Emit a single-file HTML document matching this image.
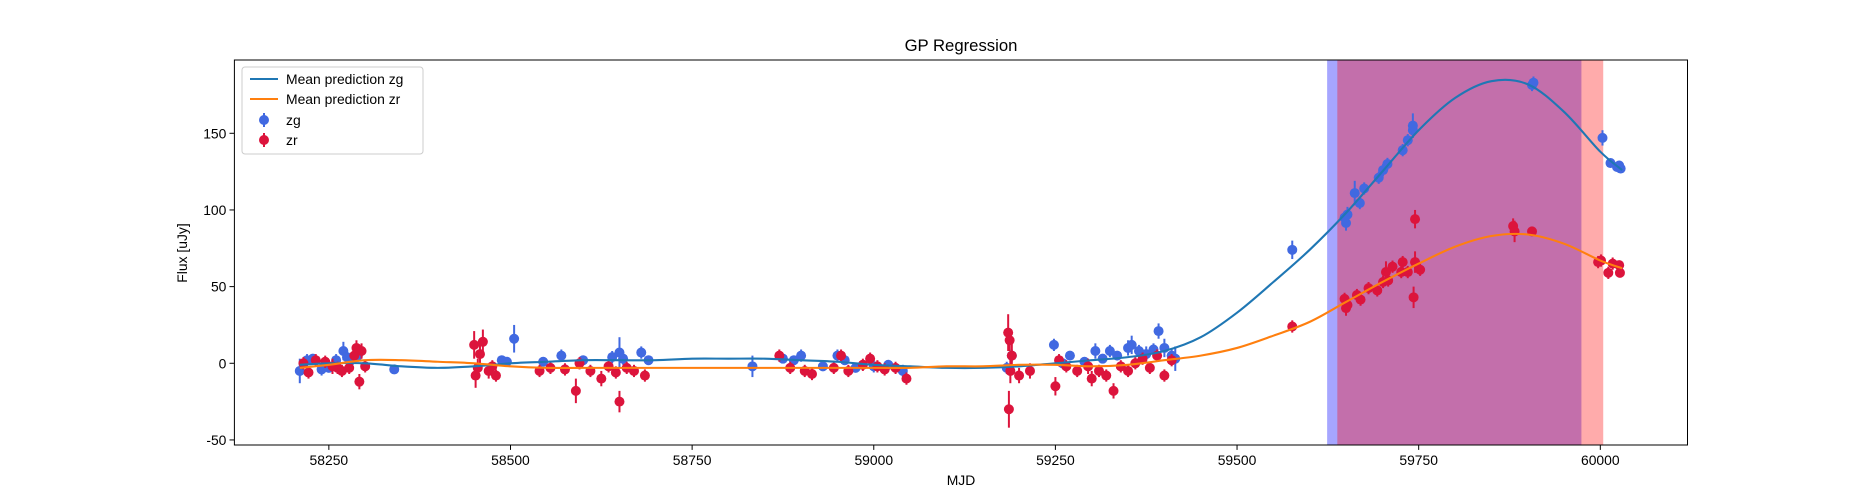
<!DOCTYPE html>
<html><head><meta charset="utf-8"><style>
body{margin:0;background:#fff}
svg{display:block;font-family:"Liberation Sans","DejaVu Sans",sans-serif}
</style></head><body>
<svg id="chart" width="1875" height="500" xmlns="http://www.w3.org/2000/svg"></svg>
<script>
const xTicks=[58250,58500,58750,59000,59250,59500,59750,60000];
const yTicks=[-50,0,50,100,150];
const spanZg=[59624,59974];
const spanZr=[59638,60004];
const zgX=[58210,58220,58228,58240,58250,58260,58270,58275,58283,58290,58340,58488,58495,58505,58545,58570,58600,58640,58650,58655,58680,58690,58833,58875,58890,58900,58930,58950,58960,58975,59000,59020,59040,59183,59190,59248,59260,59270,59290,59305,59315,59325,59335,59350,59355,59365,59375,59385,59392,59400,59410,59415,59576,59648,59650,59652,59662,59669,59675,59695,59701,59707,59728,59735,59742,59742,59906,59908,60003,60014,60023,60028,60026];
const zgY=[-5,2,3,-4,-3,2,8,4,3,5,-4,2,1,16,1,5,2,4,7,3,7,2,-2,3,2,5,-2,5,2,-3,-2,-1,-5,-3,5,12,0,5,1,8,3,8,5,10,12,8,6,9,21,10,5,3,74,95,91.5,97,111,104.5,114,121,126,130,139,145.5,152,155,181.5,183,147,130.6,128,127,129];
const zgE=[8,4,3,4,3,4,6,4,4,4,3,3,3,9,3,4,3,4,10,4,4,3,7,3,3,4,3,4,3,3,4,3,4,4,4,4,3,3,3,5,3,4,3,5,6,4,5,4,5,6,4,8,6,4,5,5,8,4,4,4,4,4,4,4,5,8,4,4,5,3,3,3,3];
const zrX=[58215,58222,58232,58245,58255,58262,58268,58278,58285,58288,58292,58300,58295,58450,58452,58455,58458,58462,58470,58475,58480,58540,58555,58575,58590,58595,58610,58625,58635,58645,58650,58660,58670,58685,58870,58885,58905,58915,58945,58955,58965,58985,58995,59005,59015,59030,59045,59185,59186,59187,59188,59190,59200,59215,59250,59255,59265,59280,59295,59300,59310,59320,59330,59340,59350,59360,59370,59380,59390,59400,59410,59576,59648,59650,59652,59665,59670,59681,59693,59701,59705,59708,59714,59726,59728,59735,59745,59752,59745,59743,59880,59882,59906,59997,60001,60011,60017,60026,60027];
const zrY=[0,-6,2,1,-2,-3,-5,-3,5,10,-12,-2,8,12,-8,-3,6,14,-5,-2,-8,-5,-3,-4,-18,0,-5,-10,-2,-6,-25,-3,-5,-8,5,-3,-5,-7,-3,5,-5,-1,3,-2,-4,-3,-10,20,-30,15,-5,5,-8,-5,-15,2,-2,-5,-2,-10,-5,-8,-18,-2,-5,0,3,-3,5,-8,2,24,42,36,38,44.5,41.5,49,47.5,53,59.5,54,63,59.5,66,59.5,66,61,94,43,89.5,86,86,66,67,59,65,64,59];
const zrE=[4,4,4,4,5,4,4,4,5,5,5,4,5,9,8,6,6,8,5,4,4,4,4,4,8,4,4,5,4,4,7,4,4,4,4,4,4,4,4,4,4,4,4,4,4,4,4,12,12,7,8,9,5,5,6,4,4,4,5,5,4,4,5,4,4,4,4,4,4,4,4,4,4,5,5,4,4,4,4,4,7,4,4,4,4,4,7,4,6,7,5,7,3,4,4,4,4,3,3];
const curveX=[58210,58250,58300,58350,58400,58450,58500,58550,58600,58650,58700,58750,58800,58850,58900,58950,59000,59050,59100,59150,59200,59250,59300,59350,59400,59450,59500,59550,59600,59650,59700,59750,59800,59850,59900,59950,60000,60030];
const zgMean=[-1,0,0,-2,-3,-2,0,1,2,2,2,3,3,3,2,1,-1,-2,-3,-3,-2,0,2,4,8,17,33,53,74,98,125,152,173,184,182,164,138,126];
const zrMean=[-3,-1,2,2,1,0,-2,-3,-3,-3,-3,-3,-3,-3,-3,-3,-3,-3,-2,-2,-1,-1,-2,-1,2,5,10,18,27,40,53,65,76,83,84,78,67,62];

const L=234.4,R=1687.5,T=60,B=445,X0=58120,X1=60120,Y0=-53.3,Y1=197.8;
const sx=v=>L+(v-X0)/(X1-X0)*(R-L);
const sy=v=>B-(v-Y0)/(Y1-Y0)*(B-T);
const NS="http://www.w3.org/2000/svg";
const svg=document.getElementById('chart');
function mk(tag,attrs,parent){const e=document.createElementNS(NS,tag);for(const k in attrs)e.setAttribute(k,attrs[k]);(parent||svg).appendChild(e);return e;}

const clip=mk('clipPath',{id:'pc'});mk('rect',{x:L,y:T,width:R-L,height:B-T},clip);
const plot=mk('g',{'clip-path':'url(#pc)'});



let s1=mk('rect',{x:sx(spanZg[0]),y:T,width:sx(spanZg[1])-sx(spanZg[0]),height:B-T,fill:'rgba(0,0,255,0.35)'},plot);


let s2=mk('rect',{x:sx(spanZr[0]),y:T,width:sx(spanZr[1])-sx(spanZr[0]),height:B-T,fill:'rgba(255,0,0,0.33)'},plot);



function curve(ys,color,name){
  const P=curveX.map((x,i)=>[sx(x),sy(ys[i])]);
  let d='M'+P[0][0]+','+P[0][1];
  for(let i=0;i<P.length-1;i++){
    const p0=P[Math.max(0,i-1)],p1=P[i],p2=P[i+1],p3=P[Math.min(P.length-1,i+2)];
    const c1=[p1[0]+(p2[0]-p0[0])/6,p1[1]+(p2[1]-p0[1])/6];
    const c2=[p2[0]-(p3[0]-p1[0])/6,p2[1]-(p3[1]-p1[1])/6];
    d+=' C'+c1[0]+','+c1[1]+' '+c2[0]+','+c2[1]+' '+p2[0]+','+p2[1];
  }
  const p=mk('path',{d:d,fill:'none',stroke:color,'stroke-width':2.1},plot);
  
  
}
function pts(xs,ys,es,color,name){
  const g=mk('g',{},plot);
  
  
  xs.forEach((x,i)=>{
    mk('line',{x1:sx(x),x2:sx(x),y1:sy(ys[i]-es[i]),y2:sy(ys[i]+es[i]),stroke:color,'stroke-width':2},g);
    const c=mk('circle',{cx:sx(x),cy:sy(ys[i]),r:5,fill:color},g);
    
    
  });
}
pts(zgX,zgY,zgE,'#4169e1','zg-points');
pts(zrX,zrY,zrE,'#dc143c','zr-points');
curve(zgMean,'#1f77b4','zg-mean-line');
curve(zrMean,'#ff7f0e','zr-mean-line');

const fr=mk('rect',{x:L,y:T,width:R-L,height:B-T,fill:'none',stroke:'#000','stroke-width':1});



xTicks.forEach(t=>{
  mk('line',{x1:sx(t),x2:sx(t),y1:B,y2:B+4.9,stroke:'#000','stroke-width':1});
  const tx=mk('text',{x:sx(t),y:B+20,'font-size':13.9,'text-anchor':'middle',fill:'#000'});tx.textContent=t;
  
  
});
yTicks.forEach(t=>{
  mk('line',{x1:L,x2:L-4.9,y1:sy(t),y2:sy(t),stroke:'#000','stroke-width':1});
  const tx=mk('text',{x:L-8,y:sy(t)+5,'font-size':13.9,'text-anchor':'end',fill:'#000'});tx.textContent=t;
  
  
});
</script>
<svg style="position:absolute;left:0;top:0" width="1875" height="500" xmlns="http://www.w3.org/2000/svg" font-family="Liberation Sans, DejaVu Sans, sans-serif">
<text x="961" y="51" font-size="16.7" text-anchor="middle">GP Regression</text>
<text x="961" y="485" font-size="13.9" text-anchor="middle">MJD</text>
<text transform="translate(187,253) rotate(-90)" font-size="13.9" text-anchor="middle">Flux [uJy]</text>
<g>
<rect x="242" y="67" width="181" height="87" rx="3" fill="#fff" fill-opacity="0.8" stroke="#ccc"/>
<g><line x1="250" x2="278" y1="79" y2="79" stroke="#1f77b4" stroke-width="2.1"/><text x="286" y="84" font-size="13.9">Mean prediction zg</text></g>
<g><line x1="250" x2="278" y1="99" y2="99" stroke="#ff7f0e" stroke-width="2.1"/><text x="286" y="104" font-size="13.9">Mean prediction zr</text></g>
<g><line x1="264" x2="264" y1="113" y2="127" stroke="#4169e1" stroke-width="2"/><circle cx="264" cy="120" r="5" fill="#4169e1"/><text x="286" y="125" font-size="13.9">zg</text></g>
<g><line x1="264" x2="264" y1="133" y2="147" stroke="#dc143c" stroke-width="2"/><circle cx="264" cy="140" r="5" fill="#dc143c"/><text x="286" y="145" font-size="13.9">zr</text></g>
</g>
</svg>
</body></html>
